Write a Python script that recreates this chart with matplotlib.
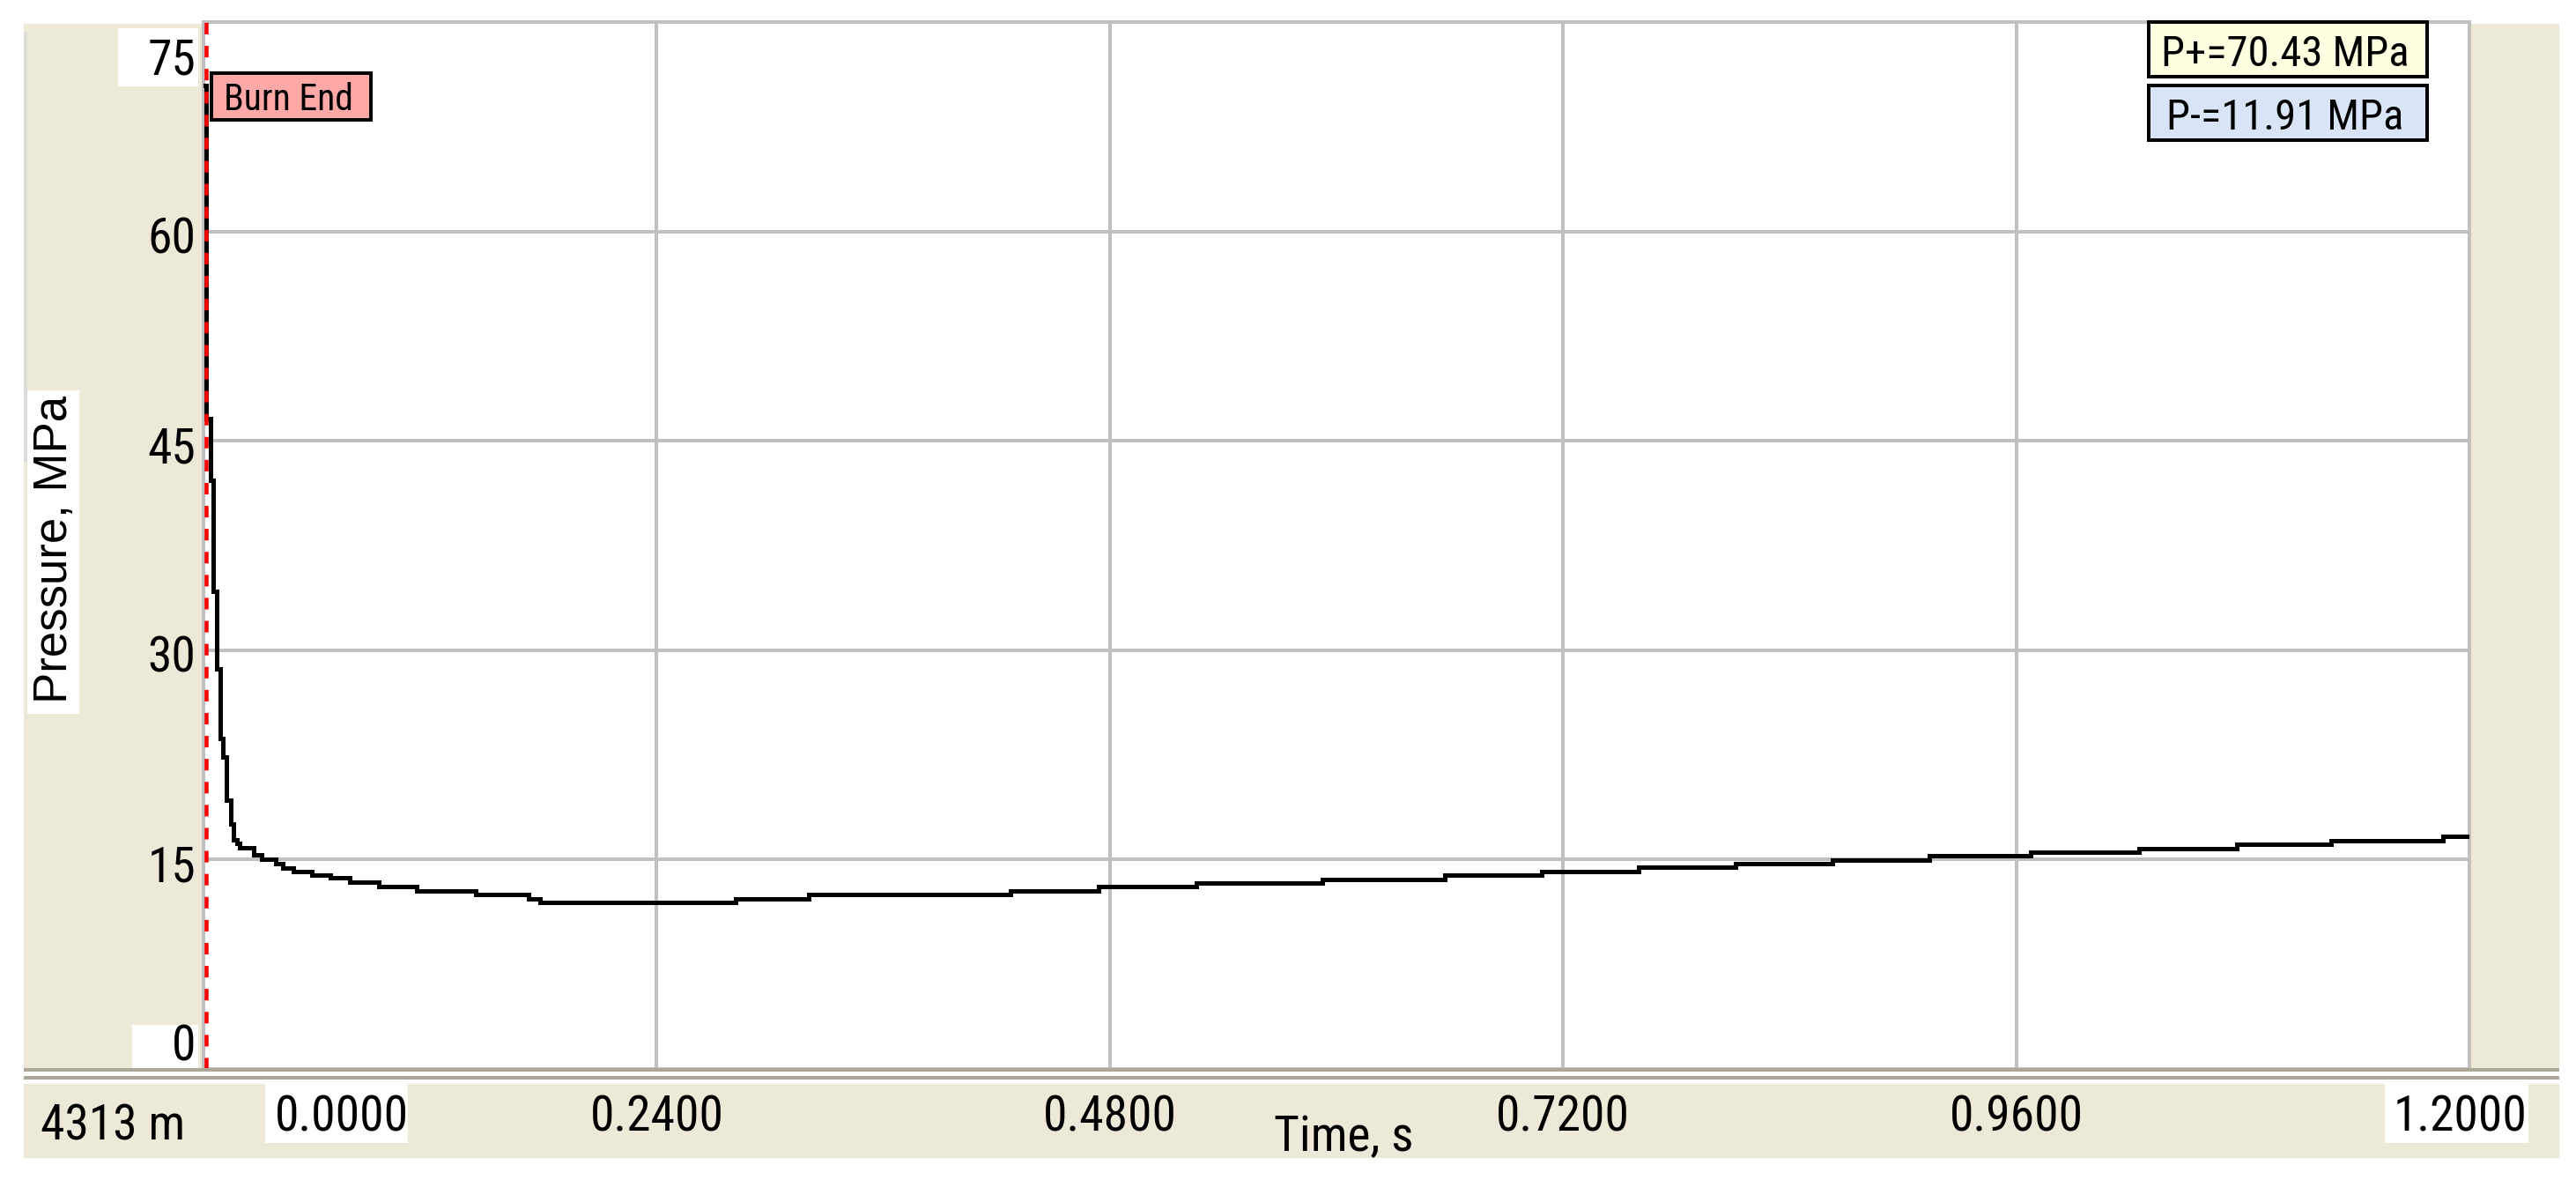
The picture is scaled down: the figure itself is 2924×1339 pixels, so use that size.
import matplotlib

matplotlib.use("Agg")

import matplotlib.pyplot as plt  # noqa: E402
from matplotlib import font_manager  # noqa: E402
from matplotlib.patches import Rectangle  # noqa: E402
from matplotlib.transforms import Bbox  # noqa: E402

W, H, DPI = 2924, 1339, 100

# pressure trace: time in s, pressure in MPa
time_s = [0.0, 0.0014, 0.0037, 0.0051, 0.0070, 0.0089, 0.0103, 0.0121, 0.0145, 0.0159,
          0.0177, 0.0191, 0.0266, 0.0308, 0.0383, 0.0420, 0.0476, 0.0574, 0.0672, 0.0775,
          0.0928, 0.1129, 0.1442, 0.1722, 0.1782, 0.2818, 0.3205, 0.4274, 0.4740, 0.5258,
          0.5925, 0.6574, 0.7087, 0.7600, 0.8114, 0.8627, 0.9140, 0.9677, 1.0250, 1.0768,
          1.1268, 1.1860, 1.2000]
pressure_mpa = [70.43, 46.6, 42.2, 34.2, 28.65, 23.66, 22.35, 19.23, 17.54, 16.42,
                16.17, 15.86, 15.36, 15.04, 14.73, 14.42, 14.17, 13.92, 13.67, 13.36,
                13.05, 12.75, 12.48, 12.19, 11.91, 12.19, 12.48, 12.75, 13.05, 13.31,
                13.59, 13.88, 14.16, 14.44, 14.71, 14.99, 15.25, 15.54, 15.81, 16.10,
                16.37, 16.67, 16.67]

x_ticks = [0.0, 0.24, 0.48, 0.72, 0.96, 1.2]
x_tick_labels = ["0.0000", "0.2400", "0.4800", "0.7200", "0.9600", "1.2000"]
y_ticks = [0, 15, 30, 45, 60, 75]
y_tick_labels = ["0", "15", "30", "45", "60", "75"]

burn_end_t = 0.0014
p_max = 70.43
p_min = 11.91
depth_label = "4313 m"

BEIGE = "#ece9d8"
GRID = "#c0c0c0"
FRAME = "#aca899"

_installed = {f.name for f in font_manager.fontManager.ttflist}
NARROW = next((n for n in ("Liberation Sans Narrow", "Arial Narrow", "Roboto Condensed")
               if n in _installed), None)
if NARROW:
    TEXT_FONT, K = NARROW, 1.0
else:
    TEXT_FONT, K = "Liberation Sans", 0.88


def fx(px):
    return px / W


def fy(py):
    return 1 - py / H


def pt(px):
    return px * 72 / DPI


def box(fig, x0, y0, x1, y1, face, edge="none", lw=0.0, z=-2):
    fig.add_artist(Rectangle((fx(x0), fy(y1)), (x1 - x0) / W, (y1 - y0) / H,
                             transform=fig.transFigure, facecolor=face, edgecolor=edge,
                             linewidth=lw, zorder=z))


def main():
    fig = plt.figure(figsize=(W / DPI, H / DPI), dpi=DPI, facecolor="white")

    # window frame
    box(fig, 27, 27, 230, 1213, BEIGE)
    box(fig, 27, 36, 31, 524, "#dcdcdc", z=-1.5)
    box(fig, 2805, 27, 2905, 1213, BEIGE)
    box(fig, 27, 1230, 2905, 1314, BEIGE)
    box(fig, 27, 1212, 2905, 1216, FRAME, z=1)
    box(fig, 27, 1221, 2905, 1225, FRAME, z=1)
    # white label boxes
    for x0, y0, x1, y1 in [(134, 32, 225, 98), (150, 1163, 225, 1213), (301, 1230, 463, 1297),
                           (2707, 1230, 2870, 1297), (31, 443, 90, 810)]:
        box(fig, x0, y0, x1, y1, "white", z=-1)

    ax = fig.add_axes([fx(231), fy(1213), (2803 - 231) / W, (1213 - 25) / H])
    ax.set_xlim(0, 1.2)
    ax.set_ylim(0.84, 75)
    ax.set_xticks(x_ticks)
    ax.set_yticks(y_ticks)
    ax.grid(True, color=GRID, lw=pt(4))
    ax.tick_params(length=0, labelbottom=False, labelleft=False)
    for side in ("top", "left", "right"):
        ax.spines[side].set_color(GRID)
        ax.spines[side].set_linewidth(pt(4))
    ax.spines["bottom"].set_visible(False)

    ax.plot(time_s, pressure_mpa, drawstyle="steps-post", color="black", lw=pt(5),
            solid_joinstyle="miter", zorder=3)
    ax.axvline(burn_end_t, color="red", lw=pt(4.5), dashes=(2.9, 2.9), zorder=4)

    ytr = ax.get_yaxis_transform()
    for val, lab in zip(y_ticks, y_tick_labels):
        dy = -25
        if val == 75:
            dy = -60
        elif val == 0:
            dy = 9
        t = ax.annotate(lab, xy=(0, val), xycoords=ytr, xytext=(-9, dy),
                        textcoords="offset pixels", ha="right", va="baseline",
                        fontsize=40 * K, family=TEXT_FONT)
        if val == 0:
            t.set_clip_box(Bbox.from_extents(0, H - 1213, 231, H))

    xtr = ax.get_xaxis_transform()
    for val, lab in zip(x_ticks, x_tick_labels):
        dx = 0
        if val == 0:
            dx = 157
        elif val == 1.2:
            dx = -10
        ax.annotate(lab, xy=(val, 0), xycoords=xtr, xytext=(dx, -70),
                    textcoords="offset pixels", ha="center", va="baseline",
                    fontsize=40 * K, family=TEXT_FONT)

    fig.text(fx(1525), fy(1306), "Time, s", ha="center", va="baseline",
             fontsize=40 * K, family=TEXT_FONT, zorder=6)
    fig.text(fx(46), fy(1293), depth_label, ha="left", va="baseline",
             fontsize=40 * K, family=TEXT_FONT, zorder=6)
    fig.text(fx(62), fy(623), "Pressure, MPa", rotation=90, ha="center", va="center",
             fontsize=38, family="Liberation Sans", zorder=6)

    # burn end marker and the peak / trough readouts
    box(fig, 240, 83, 421, 136, "#ffa8a8", edge="black", lw=pt(4), z=5)
    fig.text(fx(328), fy(125), "Burn End", ha="center", va="baseline",
             fontsize=30 * K, family=TEXT_FONT, zorder=6)
    box(fig, 2439, 25, 2755, 87, "#ffffe1", edge="black", lw=pt(4), z=5)
    fig.text(fx(2594), fy(75), f"P+={p_max:.2f} MPa", ha="center", va="baseline",
             fontsize=35 * K, family=TEXT_FONT, zorder=6)
    box(fig, 2439, 97, 2755, 159, "#d9e5f7", edge="black", lw=pt(4), z=5)
    fig.text(fx(2594), fy(147), f"P-={p_min:.2f} MPa", ha="center", va="baseline",
             fontsize=35 * K, family=TEXT_FONT, zorder=6)

    fig.savefig("out.png", dpi=DPI, facecolor="white")
    plt.close(fig)


if __name__ == "__main__":
    main()
